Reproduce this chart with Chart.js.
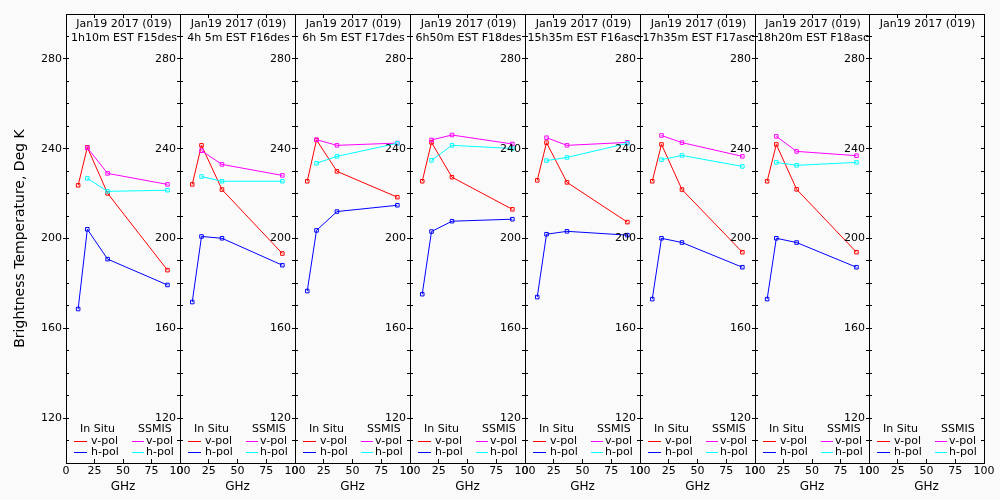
<!DOCTYPE html>
<html>
<head>
<meta charset="utf-8">
<script src="https://cdn.jsdelivr.net/npm/chart.js@4/dist/chart.umd.min.js"></script>
<style>
    body { margin: 0; background: #fafafa; }
    #wrap { position: relative; width: 1000px; height: 500px; background: #fafafa; }
    #wrap canvas { position: absolute; left: 0; top: 0; }
</style>
</head>
<body>
<div id="wrap"></div>
<script>
// Frequencies (GHz)
const inSituFreq = [10.65, 18.7, 36.5, 89.0];
const ssmisFreq = [18.7, 36.5, 89.0];

const dateLabel = 'Jan19 2017 (019)';
const passLabels = ['1h10m EST F15des', '4h 5m EST F16des', '6h 5m EST F17des', '6h50m EST F18des',
                    '15h35m EST F16asc', '17h35m EST F17asc', '18h20m EST F18asc', ''];

// Brightness temperatures, one row per panel
const inSituV = [
    [223.7, 240.6, 220.1, 185.9],
    [224.1, 241.5, 221.8, 193.3],
    [225.5, 243.9, 229.9, 218.4],
    [225.5, 242.8, 227.3, 213.0],
    [225.9, 242.7, 225.0, 207.3],
    [225.5, 241.9, 221.8, 193.9],
    [225.5, 241.9, 221.9, 193.9],
    []
];
const inSituH = [
    [168.6, 204.1, 190.8, 179.3],
    [171.7, 200.9, 200.1, 188.1],
    [176.6, 203.6, 212.0, 214.8],
    [175.2, 203.1, 207.7, 208.6],
    [173.9, 201.9, 203.2, 201.5],
    [173.0, 200.1, 198.2, 187.2],
    [173.0, 200.1, 198.2, 187.2],
    []
];
const ssmisV = [
    [240.4, 229.0, 224.1],
    [239.1, 233.0, 228.1],
    [244.0, 241.5, 242.5],
    [243.9, 246.1, 242.1],
    [244.9, 241.5, 242.8],
    [245.9, 242.7, 236.6],
    [245.5, 238.8, 236.9],
    []
];
const ssmisH = [
    [226.8, 221.0, 221.5],
    [227.6, 225.5, 225.5],
    [233.5, 236.6, 242.4],
    [234.8, 241.5, 240.1],
    [234.7, 236.1, 242.4],
    [235.1, 237.0, 232.1],
    [233.9, 232.6, 233.9],
    []
];

const yMajorTicks = [120, 160, 200, 240, 280];
const xTicks = [0, 25, 50, 75, 100];

const FONT = 'DejaVu Sans';
const AREA_TOP = 14;
const AREA_BOTTOM = 463;
const Y_BOX = 60;
const edge = i => Math.round(65.5 + i * 114.85);

function toPoints(xs, ys) {
    return ys.map((y, i) => ({ x: xs[i], y: y }));
}

function series(label, xs, ys, color, order) {
    return {
        label: label,
        data: toPoints(xs, ys),
        borderColor: color,
        backgroundColor: 'rgba(0,0,0,0)',
        borderWidth: 1,
        tension: 0,
        pointStyle: 'rect',
        pointRadius: 2.5,
        pointBorderWidth: 1,
        pointBackgroundColor: 'rgba(0,0,0,0)',
        pointBorderColor: color,
        order: order
    };
}

// frame, panel titles and legend
const panelPlugin = {
    id: 'panel',
    afterDraw(chart, args, opts) {
        const ctx = chart.ctx;
        const a = chart.chartArea;
        const ds = chart.data.datasets;
        ctx.save();
        ctx.strokeStyle = '#000';
        ctx.lineWidth = 1;
        ctx.strokeRect(a.left + 0.5, a.top + 0.5, a.right - a.left, a.bottom - a.top);

        ctx.fillStyle = '#000';
        ctx.font = '11px "' + FONT + '"';
        ctx.textBaseline = 'middle';
        ctx.textAlign = 'center';
        const cx = (a.left + a.right) / 2 + 1;
        ctx.fillText(dateLabel, cx, 24.5);
        if (opts.pass) ctx.fillText(opts.pass, cx, 38.5);

        const L = a.left;
        ctx.textAlign = 'left';
        ctx.fillText('In Situ', L + 14, 429.5);
        ctx.fillText('SSMIS', L + 72, 429.5);
        const rows = [['v-pol', ds[0].borderColor, ds[2].borderColor, 441.5],
                      ['h-pol', ds[1].borderColor, ds[3].borderColor, 452.5]];
        rows.forEach(r => {
            ctx.strokeStyle = r[1];
            ctx.beginPath(); ctx.moveTo(L + 8, r[3]); ctx.lineTo(L + 21, r[3]); ctx.stroke();
            ctx.fillText(r[0], L + 25, r[3]);
            ctx.strokeStyle = r[2];
            ctx.beginPath(); ctx.moveTo(L + 66, r[3]); ctx.lineTo(L + 78, r[3]); ctx.stroke();
            ctx.fillText(r[0], L + 80, r[3]);
        });
        ctx.restore();
    }
};

function tickAxis(position, isX, length) {
    return {
        type: 'linear',
        position: position,
        min: isX ? 0 : 100,
        max: isX ? 100 : 300,
        weight: -1,
        ticks: { display: false, stepSize: isX ? 25 : 10 },
        grid: { drawOnChartArea: false, tickLength: length, color: '#000' },
        border: { display: false },
        afterFit: s => { if (isX) s.height = 0; else s.width = 0; }
    };
}

function makePanel(i) {
    const left = edge(i), right = edge(i + 1);
    const canvas = document.createElement('canvas');
    canvas.width = 1000;
    canvas.height = 500;
    document.getElementById('wrap').appendChild(canvas);

    const config = {
        type: 'line',
        data: {
            datasets: [
                series('In Situ v-pol', inSituFreq, inSituV[i], '#ff0000', 4),
                series('In Situ h-pol', inSituFreq, inSituH[i], '#0000ff', 3),
                series('SSMIS v-pol', ssmisFreq, ssmisV[i], '#ff00ff', 2),
                series('SSMIS h-pol', ssmisFreq, ssmisH[i], '#00ffff', 1)
            ]
        },
        options: {
            responsive: false,
            animation: false,
            devicePixelRatio: 1,
            layout: {
                padding: { left: left - Y_BOX, right: 1000 - right, top: AREA_TOP, bottom: 0 }
            },
            plugins: {
                legend: { display: false },
                tooltip: { enabled: false },
                panel: { pass: passLabels[i] }
            },
            scales: {
                x: {
                    type: 'linear',
                    position: 'bottom',
                    min: 0,
                    max: 100,
                    weight: 1,
                    afterBuildTicks: s => { s.ticks = xTicks.map(v => ({ value: v })); },
                    ticks: { color: '#000', font: { family: FONT, size: 11 }, padding: 2, maxRotation: 0, autoSkip: false },
                    grid: { display: false, drawTicks: false, tickLength: 0 },
                    border: { display: false },
                    title: { display: true, text: 'GHz', color: '#000', font: { family: FONT, size: 12 }, padding: { top: 0, bottom: 6 } },
                    afterFit: s => { s.height = 500 - AREA_BOTTOM; }
                },
                xTop: tickAxis('top', true, -4),
                xBot: tickAxis('bottom', true, -4),
                y: {
                    type: 'linear',
                    position: 'left',
                    min: 100,
                    max: 300,
                    weight: 1,
                    afterBuildTicks: s => { s.ticks = yMajorTicks.map(v => ({ value: v })); },
                    ticks: { color: '#000', font: { family: FONT, size: 11 }, padding: 1 },
                    grid: { drawOnChartArea: false, tickLength: 3, color: '#000' },
                    border: { display: false },
                    title: {
                        display: i === 0,
                        text: 'Brightness Temperature, Deg K',
                        color: '#000',
                        font: { family: FONT, size: 14 },
                        padding: { top: 6, bottom: 0 }
                    },
                    afterFit: s => { s.width = Y_BOX; }
                },
                yMinL: tickAxis('left', false, -3),
                yMinR: tickAxis('right', false, -3)
            }
        },
        plugins: [panelPlugin]
    };
    return new Chart(canvas.getContext('2d'), config);
}

window.onload = function() {
    try {
        for (let i = 0; i < passLabels.length; i++) makePanel(i);
    } catch (error) {
        console.error('Error initializing charts:', error);
    }
};
</script>
</body>
</html>
